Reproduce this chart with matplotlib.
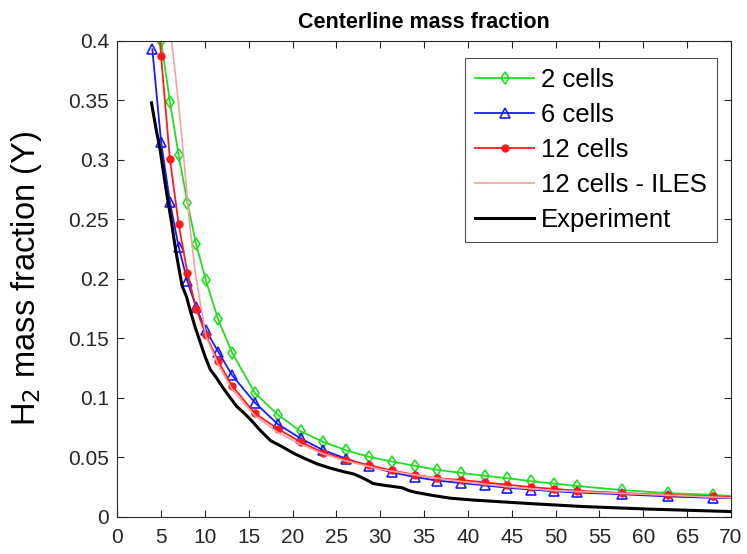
import numpy as np
import matplotlib
matplotlib.use("Agg")
import matplotlib.pyplot as plt

plt.rcParams['font.family'] = ['Liberation Sans', 'DejaVu Sans']

# simulation probe positions
x_green = [5, 6, 7, 8, 9, 10.1, 11.5, 13.1, 15.7, 18.3, 20.9, 23.5, 26.1, 28.7, 31.3, 33.9,
           36.5, 39.2, 41.9, 44.5, 47.2, 49.8, 52.4, 57.6, 62.8, 68.0, 70]
y_green = [0.40, 0.349, 0.304, 0.264, 0.229, 0.199, 0.166, 0.138, 0.104, 0.086, 0.072, 0.063,
           0.056, 0.0505, 0.0465, 0.043, 0.0395, 0.037, 0.0345, 0.0325, 0.030, 0.028, 0.026,
           0.0225, 0.020, 0.0185, 0.0175]

x_blue = [4, 5, 6, 7, 8, 9, 10.1, 11.5, 13.1, 15.7, 18.3, 20.9, 23.5, 26.1, 28.7, 31.3, 33.9,
          36.5, 39.2, 41.9, 44.5, 47.2, 49.8, 52.4, 57.6, 62.8, 68.0, 70]
y_blue = [0.393, 0.315, 0.265, 0.227, 0.198, 0.176, 0.157, 0.139, 0.119, 0.096, 0.078, 0.066,
          0.056, 0.049, 0.0425, 0.0375, 0.0335, 0.0305, 0.0285, 0.0265, 0.0245, 0.023, 0.0215,
          0.0205, 0.019, 0.0172, 0.016, 0.0157]

x_red = [4, 5, 6, 7, 8, 9, 10.1, 11.5, 13.1, 15.7, 18.3, 20.9, 23.5, 26.1, 28.7, 31.3, 33.9,
         36.5, 39.2, 41.9, 44.5, 47.2, 49.8, 52.4, 57.6, 62.8, 68.0, 70]
y_red = [0.49, 0.387, 0.301, 0.246, 0.205, 0.175, 0.153, 0.131, 0.110, 0.087, 0.074, 0.063,
         0.054, 0.048, 0.0435, 0.039, 0.0355, 0.0325, 0.031, 0.029, 0.027, 0.025, 0.0235,
         0.022, 0.020, 0.0185, 0.0172, 0.0167]

x_iles = [6.2, 6.95, 7.6, 8.2, 8.9, 10.1, 11.5, 13.1, 15.7, 18.3, 20.9, 23.5, 26.1, 30, 35,
          40, 45, 50, 55, 60, 65, 70]
y_iles = [0.40, 0.35, 0.30, 0.25, 0.205, 0.152, 0.128, 0.107, 0.085, 0.071, 0.061, 0.053,
          0.047, 0.040, 0.034, 0.029, 0.025, 0.022, 0.0205, 0.019, 0.0175, 0.016]

x_exp = [3.9, 4.4, 4.9, 5.3, 5.7, 6.2, 6.6, 7.0, 7.4, 7.9, 8.3, 8.9, 9.5, 10.0, 10.6, 11.3,
         12.1, 12.8, 13.6, 14.5, 15.3, 16.4, 17.5, 18.8, 20.1, 21.4, 22.8, 24.3, 25.8, 27.0,
         28.2, 29.2, 30.5, 31.5, 32.5, 33.3, 34.1, 36.0, 38.0, 40.5, 43.3, 47.5, 53.1, 60.8,
         69.9]
y_exp = [0.348, 0.327, 0.308, 0.288, 0.269, 0.247, 0.227, 0.210, 0.194, 0.185, 0.174, 0.159,
         0.146, 0.135, 0.124, 0.117, 0.108, 0.101, 0.093, 0.087, 0.081, 0.072, 0.064, 0.059,
         0.0535, 0.049, 0.0445, 0.041, 0.038, 0.036, 0.032, 0.028, 0.0265, 0.0255, 0.0245,
         0.022, 0.0205, 0.018, 0.0157, 0.0142, 0.0129, 0.011, 0.0087, 0.0065, 0.0045]

labels = ['2 cells', '6 cells', '12 cells', '12 cells - ILES', 'Experiment']

fig = plt.figure(figsize=(7.47, 5.54), dpi=100)
ax = fig.add_axes([0.157, 0.067, 0.8216, 0.859])

ax.plot(x_green, y_green, color='#22dd22', lw=1.3, marker='d', ms=6, mfc='none', mew=1.2,
        markevery=list(range(len(x_green) - 1)), label=labels[0])
ax.plot(x_blue, y_blue, color='#1a1aff', lw=1.3, marker='^', ms=7, mfc='none', mew=1.2,
        markevery=list(range(len(x_blue) - 1)), label=labels[1])
ax.plot(x_red, y_red, color='#ff1a1a', lw=1.3, marker='o', ms=5,
        markevery=list(range(len(x_red) - 1)), label=labels[2])
ax.plot(x_iles, y_iles, color='#f5a0a0', lw=1.2, label=labels[3])
ax.plot(x_exp, y_exp, color='black', lw=2.2, label=labels[4])

ax.set_xlim(0, 70)
ax.set_ylim(0, 0.4)
ax.set_xticks(np.arange(0, 71, 5))
ax.set_yticks(np.arange(0, 0.401, 0.05))
ax.set_yticklabels(['0', '0.05', '0.1', '0.15', '0.2', '0.25', '0.3', '0.35', '0.4'])
ax.tick_params(direction='in', top=True, right=True, length=5, width=0.8,
               labelsize=15, colors='#262626')
ax.tick_params(axis='x', pad=8)
ax.tick_params(axis='y', pad=6)
for s in ax.spines.values():
    s.set_color('#262626')
    s.set_linewidth(0.8)

ax.set_title('Centerline mass fraction', fontsize=15.5, fontweight='bold', pad=9)
ax.set_ylabel('H$_2$ mass fraction (Y)', fontsize=23.5, labelpad=17)

leg = ax.legend(loc='upper right', bbox_to_anchor=(0.977, 0.964), borderaxespad=0,
                fontsize=18.5, frameon=True, fancybox=False, edgecolor='#262626',
                handlelength=2.3, handletextpad=0.25, labelspacing=0.42, borderpad=0.4)
leg.get_frame().set_linewidth(0.8)

fig.savefig('out.png', dpi=100)
